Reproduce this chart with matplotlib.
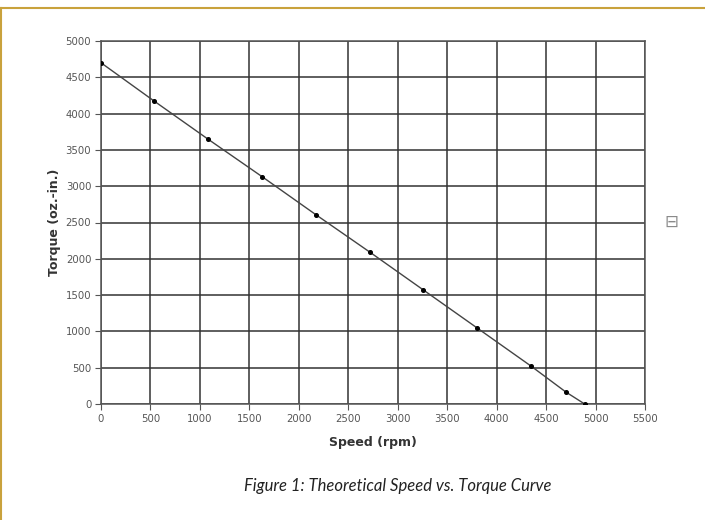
import matplotlib
matplotlib.use('Agg')
import matplotlib.pyplot as plt

speed = [0, 540, 1080, 1630, 2170, 2720, 3260, 3800, 4350, 4700, 4890]
torque = [4700, 4170, 3650, 3130, 2610, 2090, 1570, 1050, 520, 165, 0]
xticks = list(range(0, 5501, 500))
yticks = list(range(0, 5001, 500))

W, H = 705, 520
fig = plt.figure(figsize=(W / 100, H / 100), dpi=100)
ax = fig.add_axes([101 / W, 1 - 404 / H, (645 - 101) / W, (404 - 41) / H])

ax.plot(speed, torque, color='#444444', lw=1.0, marker='o', ms=2.6,
        mfc='black', mec='black', zorder=3)
ax.set_xlim(0, 5500)
ax.set_ylim(0, 5000)
ax.set_xticks(xticks)
ax.set_yticks(yticks)
ax.grid(True, color='#333333', lw=1.1)
for sp in ax.spines.values():
    sp.set_color('#555555')
    sp.set_linewidth(1.1)
ax.tick_params(length=4, width=0.8, color='#555555', labelsize=7.3,
               labelcolor='#555555', pad=3)
ax.set_xlabel('Speed (rpm)', fontsize=9, fontweight='bold',
              color='#333333', labelpad=9)
ax.set_ylabel('Torque (oz.-in.)', fontsize=9, fontweight='bold',
              color='#333333', labelpad=3)

fig.text(398 / W, 1 - 486 / H, 'Figure 1: Theoretical Speed vs. Torque Curve',
         ha='center', va='center', fontsize=12, style='italic',
         family='Lato', color='#222222')
fig.text(671 / W, 1 - 222 / H, '\u229f', ha='center', va='center',
         fontsize=12, color='#8a8a8a')

# gold frame lines at top and left
fig.add_artist(plt.Line2D([0, 1], [1 - 7.5 / H, 1 - 7.5 / H],
                          transform=fig.transFigure, color='#c9a23c', lw=1.5))
fig.add_artist(plt.Line2D([0.8 / W, 0.8 / W], [0, 1 - 7.5 / H],
                          transform=fig.transFigure, color='#c9a23c', lw=1.5))

fig.savefig('out.png', dpi=100)
